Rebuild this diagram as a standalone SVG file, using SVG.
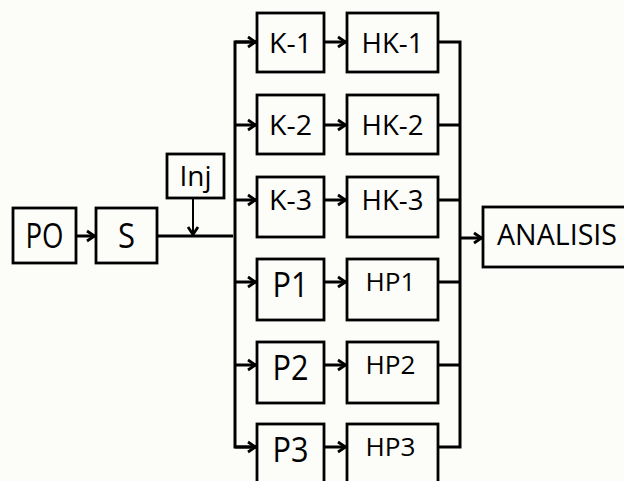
<svg xmlns="http://www.w3.org/2000/svg" width="624" height="481" viewBox="0 0 624 481">
  <style>
    .box { fill: none; stroke: #000; stroke-width: 2.8; }
    .wire { fill: none; stroke: #000; stroke-width: 3; }
    .thin { fill: none; stroke: #000; stroke-width: 2; }
    .arw { marker-end: url(#head); }
    text { font-family: "Open Sans", "Noto Sans", "Liberation Sans", sans-serif; fill: #000; text-anchor: middle; }
    .k { font-size: 28px; }
    .p { font-size: 35px; }
    .hp { font-size: 26px; }
  </style>
  <defs>
    <marker id="head" markerUnits="userSpaceOnUse" markerWidth="12" markerHeight="14" refX="9.5" refY="7" orient="auto">
      <path d="M1.5,2 L9,7 L1.5,12" fill="none" stroke="#000" stroke-width="2.8" stroke-linejoin="miter"/>
    </marker>
  </defs>

  <rect width="624" height="481" fill="#fcfcf9"/>

  <g id="connectors">
    <line class="wire arw" x1="76" y1="236" x2="95" y2="236"/>
    <line class="wire" x1="157" y1="236" x2="233" y2="236"/>
    <line class="thin arw" x1="193" y1="198" x2="193" y2="235"/>
    <polyline class="wire" points="256,42 235,42 235,447 256,447"/>
    <line class="wire arw" x1="235" y1="42" x2="256" y2="42"/>
    <line class="wire arw" x1="235" y1="125" x2="256" y2="125"/>
    <line class="wire arw" x1="235" y1="200" x2="256" y2="200"/>
    <line class="wire arw" x1="235" y1="282" x2="256" y2="282"/>
    <line class="wire arw" x1="235" y1="365" x2="256" y2="365"/>
    <line class="wire arw" x1="235" y1="447" x2="256" y2="447"/>
    <line class="wire arw" x1="324" y1="42" x2="346" y2="42"/>
    <line class="wire arw" x1="324" y1="125" x2="346" y2="125"/>
    <line class="wire arw" x1="324" y1="200" x2="346" y2="200"/>
    <line class="wire arw" x1="324" y1="282" x2="346" y2="282"/>
    <line class="wire arw" x1="324" y1="365" x2="346" y2="365"/>
    <line class="wire arw" x1="324" y1="447" x2="346" y2="447"/>
    <polyline class="wire" points="438,42 460,42 460,447 438,447"/>
    <line class="wire" x1="438" y1="125" x2="460" y2="125"/>
    <line class="wire" x1="438" y1="200" x2="460" y2="200"/>
    <line class="wire" x1="438" y1="282" x2="460" y2="282"/>
    <line class="wire" x1="438" y1="365" x2="460" y2="365"/>
    <line class="wire arw" x1="460" y1="238" x2="482" y2="238"/>
  </g>

  <g id="PO">
    <rect class="box" x="13" y="208" width="63" height="55"/>
    <text class="p" x="44.5" y="248" textLength="38" lengthAdjust="spacingAndGlyphs">PO</text>
  </g>
  <g id="S">
    <rect class="box" x="96" y="208" width="61" height="55"/>
    <text class="p" x="126.5" y="248" textLength="17" lengthAdjust="spacingAndGlyphs">S</text>
  </g>
  <g id="Inj">
    <rect class="box" x="167" y="154" width="57" height="44"/>
    <text x="195.5" y="186" font-size="28" textLength="32" lengthAdjust="spacingAndGlyphs">Inj</text>
  </g>

  <g id="K-1">
    <rect class="box" x="257" y="13" width="67" height="59"/>
    <text class="k" x="290.5" y="52.5" textLength="43" lengthAdjust="spacingAndGlyphs">K-1</text>
  </g>
  <g id="K-2">
    <rect class="box" x="257" y="95" width="67" height="59"/>
    <text class="k" x="290.5" y="134.5" textLength="43" lengthAdjust="spacingAndGlyphs">K-2</text>
  </g>
  <g id="K-3">
    <rect class="box" x="257" y="177" width="67" height="60"/>
    <text class="k" x="290.5" y="210" textLength="43" lengthAdjust="spacingAndGlyphs">K-3</text>
  </g>
  <g id="P1">
    <rect class="box" x="257" y="259" width="67" height="61"/>
    <text class="p" x="290.5" y="297" textLength="36" lengthAdjust="spacingAndGlyphs">P1</text>
  </g>
  <g id="P2">
    <rect class="box" x="257" y="342" width="67" height="61"/>
    <text class="p" x="290.5" y="380" textLength="36" lengthAdjust="spacingAndGlyphs">P2</text>
  </g>
  <g id="P3">
    <rect class="box" x="257" y="424" width="67" height="61"/>
    <text class="p" x="290.5" y="462" textLength="36" lengthAdjust="spacingAndGlyphs">P3</text>
  </g>

  <g id="HK-1">
    <rect class="box" x="347" y="13" width="91" height="59"/>
    <text class="k" x="392.5" y="52.5" textLength="62" lengthAdjust="spacingAndGlyphs">HK-1</text>
  </g>
  <g id="HK-2">
    <rect class="box" x="347" y="95" width="91" height="59"/>
    <text class="k" x="392.5" y="134.5" textLength="62" lengthAdjust="spacingAndGlyphs">HK-2</text>
  </g>
  <g id="HK-3">
    <rect class="box" x="347" y="177" width="91" height="60"/>
    <text class="k" x="392.5" y="210" textLength="62" lengthAdjust="spacingAndGlyphs">HK-3</text>
  </g>
  <g id="HP1">
    <rect class="box" x="347" y="259" width="91" height="61"/>
    <text class="hp" x="390.5" y="291" textLength="50" lengthAdjust="spacingAndGlyphs">HP1</text>
  </g>
  <g id="HP2">
    <rect class="box" x="347" y="342" width="91" height="61"/>
    <text class="hp" x="390.5" y="374" textLength="50" lengthAdjust="spacingAndGlyphs">HP2</text>
  </g>
  <g id="HP3">
    <rect class="box" x="347" y="424" width="91" height="61"/>
    <text class="hp" x="390.5" y="456" textLength="50" lengthAdjust="spacingAndGlyphs">HP3</text>
  </g>

  <g id="ANALISIS">
    <rect class="box" x="483" y="207" width="150" height="60"/>
    <text x="557" y="245" font-size="29" textLength="120" lengthAdjust="spacingAndGlyphs">ANALISIS</text>
  </g>
</svg>
